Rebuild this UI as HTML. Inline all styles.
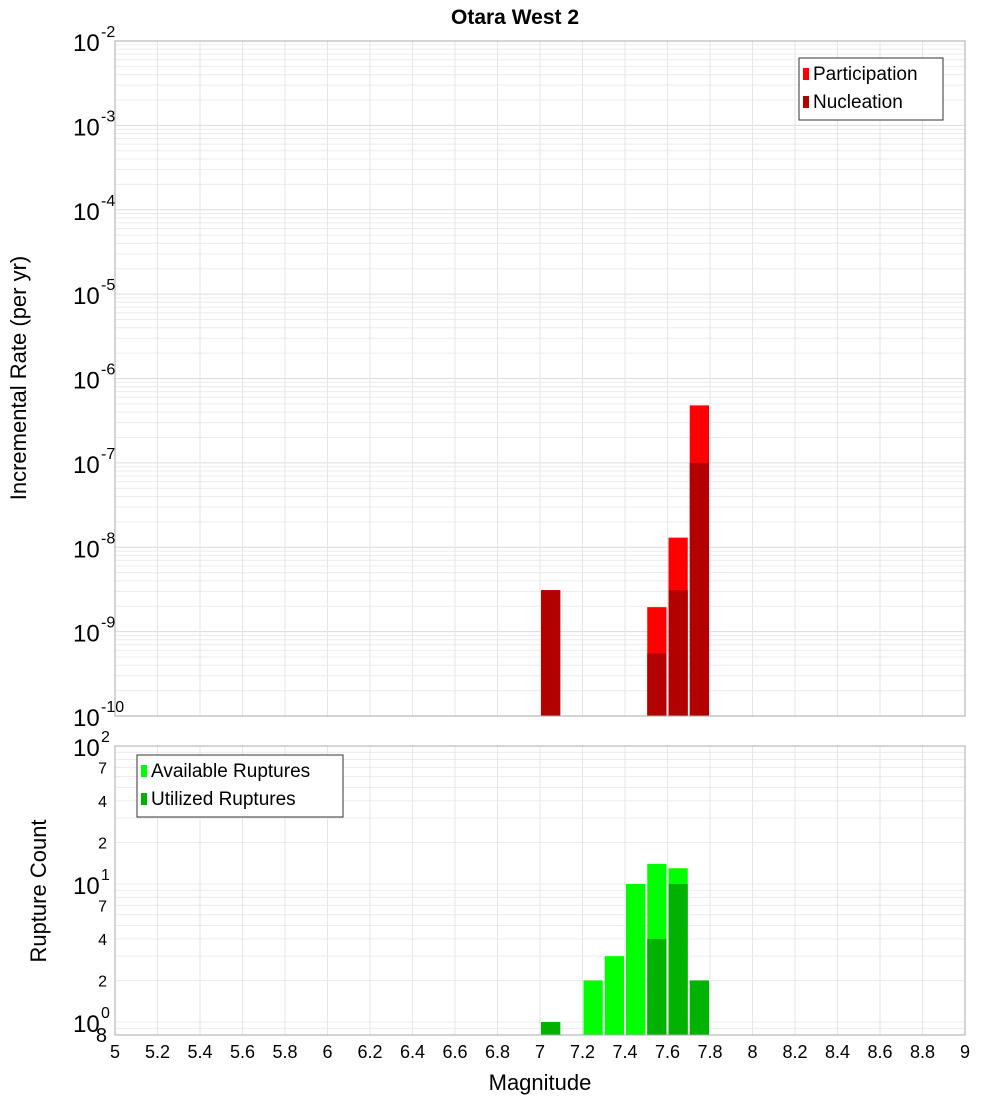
<!DOCTYPE html>
<html><head><meta charset="utf-8"><style>
body{margin:0;background:#fff;}
svg{display:block;font-family:"Liberation Sans","DejaVu Sans",sans-serif;}
</style></head><body>
<svg id="c" width="1000" height="1100" xmlns="http://www.w3.org/2000/svg">
<rect width="1000" height="1100" fill="#fff"/>
<text x="515" y="24" text-anchor="middle" font-size="21" font-weight="bold">Otara West 2</text>
<g id="topPanel"></g><g id="botPanel"></g>
<text transform="translate(26,378) rotate(-90)" text-anchor="middle" font-size="22">Incremental Rate (per yr)</text>
<text transform="translate(46,891) rotate(-90)" text-anchor="middle" font-size="22">Rupture Count</text>
<text x="540" y="1090" text-anchor="middle" font-size="22">Magnitude</text>
</svg>
<script>
const mags = [7.05, 7.55, 7.65, 7.75];
const participation = [3.1e-9, 1.95e-9, 1.3e-8, 4.8e-7];
const nucleation = [3.1e-9, 5.5e-10, 3.1e-9, 1.0e-7];
const countMags = [7.05, 7.25, 7.35, 7.45, 7.55, 7.65, 7.75];
const available = [1, 2, 3, 10, 14, 13, 2];
const utilized = [1, 0, 0, 0, 4, 10, 2];
const xTicks = ["5","5.2","5.4","5.6","5.8","6","6.2","6.4","6.6","6.8","7","7.2","7.4","7.6","7.8","8","8.2","8.4","8.6","8.8","9"];
const topExps = [-2,-3,-4,-5,-6,-7,-8,-9,-10];
const botMinorLabels = ["7","4","2","7","4","2"];
const botMinorValues = [70,40,20,7,4,2];

const NS="http://www.w3.org/2000/svg";
const svgRoot=document.getElementById('c');
function el(tag,attrs,parent){const e=document.createElementNS(NS,tag);for(const k in attrs)e.setAttribute(k,attrs[k]);(parent||svgRoot).appendChild(e);return e;}
const L=115,R=965;
const xS=v=>L+(v-5)/4*(R-L);
const T0=41,T1=716;
const yT=v=>T0+(-2-Math.log10(v))/8*(T1-T0);
const B0=746,B1=1035;
const yB=v=>1022-Math.log10(v)*138;

const topG=document.getElementById('topPanel'), botG=document.getElementById('botPanel');
let bg=el('rect',{x:L,y:T0,width:R-L,height:T1-T0,fill:'#fff'},topG);


bg=el('rect',{x:L,y:B0,width:R-L,height:B1-B0,fill:'#fff'},botG);


for(let e=-10;e<-2;e++){for(let m=1;m<10;m++){const y=yT(m*Math.pow(10,e));el('line',{x1:L,x2:R,y1:y,y2:y,stroke:m==1?'#dcdcdc':'#ececec','stroke-width':1},topG);}}
for(let e=-1;e<2;e++){for(let m=1;m<10;m++){const y=yB(m*Math.pow(10,e));if(y>B1||y<B0)continue;el('line',{x1:L,x2:R,y1:y,y2:y,stroke:'#ececec','stroke-width':1},botG);}}
xTicks.forEach(t=>{const xx=xS(+t);el('line',{x1:xx,x2:xx,y1:T0,y2:T1,stroke:'#e6e6e6'},topG);el('line',{x1:xx,x2:xx,y1:B0,y2:B1,stroke:'#e6e6e6'},botG);});
mags.forEach((m,i)=>{
  const x0=xS(m-0.05)+1, w=xS(m+0.05)-xS(m-0.05)-2;
  let r=el('rect',{x:x0,y:yT(participation[i]),width:w,height:T1-yT(participation[i]),fill:'#ff0000'},topG);
  
  
  r=el('rect',{x:x0,y:yT(nucleation[i]),width:w,height:T1-yT(nucleation[i]),fill:'#b30000'},topG);
  
  
});
countMags.forEach((m,i)=>{
  const x0=xS(m-0.05)+1, w=xS(m+0.05)-xS(m-0.05)-2;
  if(available[i]>0){let r=el('rect',{x:x0,y:yB(available[i]),width:w,height:B1-yB(available[i]),fill:'#00ff00'},botG);
  
  }
  if(utilized[i]>0){let r=el('rect',{x:x0,y:yB(utilized[i]),width:w,height:B1-yB(utilized[i]),fill:'#00b300'},botG);
  
  }
});
el('rect',{x:L,y:T0,width:R-L,height:T1-T0,fill:'none',stroke:'#aaa'},topG);
el('rect',{x:L,y:B0,width:R-L,height:B1-B0,fill:'none',stroke:'#aaa'},botG);
topExps.forEach(e=>{const y=yT(Math.pow(10,e));
  const t=el('text',{x:73,y:y+10,'font-size':24},topG);t.textContent='10';
  
  
  const s=el('text',{x:101,y:y-4,'font-size':16},topG);s.textContent=String(e);
  
  });
[[2,100],[1,10],[0,1]].forEach(([e,v])=>{const y=yB(v);
  const t=el('text',{x:73,y:y+10,'font-size':24},botG);t.textContent='10';
  
  
  const s=el('text',{x:101,y:y-4,'font-size':16},botG);s.textContent=String(e);
  
  });
botMinorValues.forEach((v,i)=>{const y=yB(v);const t=el('text',{x:107,y:y+6,'font-size':16,'text-anchor':'end'},botG);t.textContent=botMinorLabels[i];
  
  });
{const t=el('text',{x:107,y:B1+7,'font-size':20,'text-anchor':'end'},botG);t.textContent='8';
 
 }
xTicks.forEach(t=>{const e=el('text',{x:xS(+t),y:1058,'font-size':18,'text-anchor':'middle'},botG);e.textContent=t;
  
  });
function legend(parent,x0,y0,w,labels,colors,name){
  const g=el('g',{},parent);
  
  
  el('rect',{x:x0,y:y0,width:w,height:labels.length*28+6,fill:'#fff',stroke:'#333'},g);
  labels.forEach((lab,i)=>{
    el('rect',{x:x0+4,y:y0+10+i*28,width:6,height:12,fill:colors[i]},g);
    const t=el('text',{x:x0+14,y:y0+22+i*28,'font-size':19},g);t.textContent=lab;
    
    
  });
}
legend(topG,799,58,144,["Participation","Nucleation"],["#ff0000","#b30000"],'top-legend');
legend(botG,137,755,206,["Available Ruptures","Utilized Ruptures"],["#00ff00","#00b300"],'bottom-legend');
</script>
</body></html>
